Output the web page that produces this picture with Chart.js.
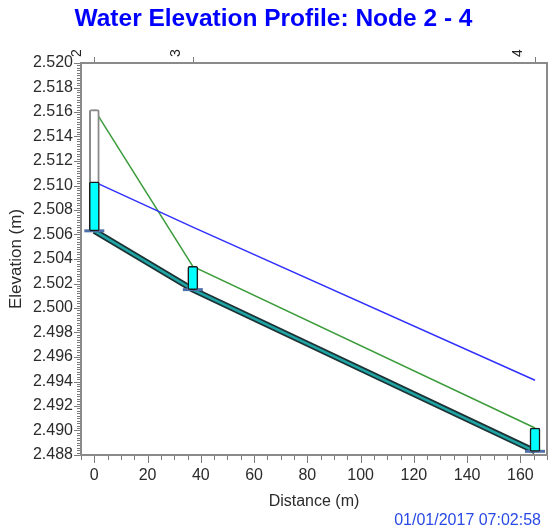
<!DOCTYPE html>
<html>
<head>
<meta charset="utf-8">
<title>Water Elevation Profile: Node 2 - 4</title>
<script src="https://cdn.jsdelivr.net/npm/chart.js@4/dist/chart.umd.min.js"></script>
<style>
  html, body { margin: 0; padding: 0; background: #fff; }
  #wrap { width: 548px; height: 532px; }
</style>
</head>
<body>
<div id="wrap"><canvas id="profileChart"></canvas></div>
<script>
// Node data
const nodeNames = ['2', '3', '4'];
const nodeDistance = [0, 37, 165.5];
const nodeInvert = [2.5063, 2.5015, 2.4883];
const nodeWater = [2.5103, 2.5034, 2.4902];
const nodeMax = [2.5162, 2.5034, 2.4902];

// Current water surface (blue line)
const hglDistance = [0, 37, 165.5];
const hglLevel = [2.5103, 2.5066, 2.4941];

// Axis ranges
const xRange = [-5, 170];
const yRange = [2.488, 2.520];

const FONT = "'Liberation Sans', Arial, sans-serif";

function pts(xs, ys) {
  return xs.map((x, i) => ({ x: x, y: ys[i] }));
}
function boxes(lo, hi) {
  return nodeDistance.map((x, i) => ({ x: x, y: [lo[i], hi[i]] }));
}

// frame, ticks and footer text
const decorPlugin = {
  id: 'decor',
  beforeDatasetsDraw(chart) {
    const ctx = chart.ctx, a = chart.chartArea;
    ctx.save();
    ctx.strokeStyle = '#8a8a8a';
    ctx.lineWidth = 2;
    ctx.strokeRect(a.left, a.top, a.right - a.left, a.bottom - a.top);
    ctx.restore();
  },
  afterDraw(chart) {
    const ctx = chart.ctx, a = chart.chartArea;
    const x = chart.scales.x, y = chart.scales.y;
    ctx.save();
    ctx.strokeStyle = '#7a7a7a';
    ctx.lineWidth = 1;
    ctx.beginPath();
    x.ticks.forEach(t => {
      const px = Math.round(x.getPixelForValue(t.value)) + 0.5;
      const len = t.value % 20 === 0 ? 7 : 4;
      ctx.moveTo(px, a.bottom + 1);
      ctx.lineTo(px, a.bottom + 1 + len);
    });
    y.ticks.forEach(t => {
      const py = Math.round(y.getPixelForValue(t.value)) + 0.5;
      const major = Math.round(t.value * 10000) % 20 === 0;
      const len = major ? 6 : 3;
      ctx.moveTo(a.left - 1, py);
      ctx.lineTo(a.left - 1 - len, py);
    });
    nodeDistance.forEach(d => {
      const px = Math.round(x.getPixelForValue(d)) + 0.5;
      ctx.moveTo(px, a.top - 1);
      ctx.lineTo(px, a.top - 6);
    });
    ctx.stroke();

    ctx.fillStyle = '#2a4ae6';
    ctx.font = '16px ' + FONT;
    ctx.textAlign = 'right';
    ctx.textBaseline = 'middle';
    ctx.fillText('01/01/2017 07:02:58', 541, 521);
    ctx.restore();
  }
};

const ctx = document.getElementById('profileChart');
new Chart(ctx, {
  type: 'line',
  data: {
    datasets: [
      {
        type: 'bar', label: 'Water depth', order: 1,
        data: boxes(nodeInvert, nodeWater),
        backgroundColor: '#00ffff', borderColor: '#1b1b1b', borderWidth: 1.5,
        borderSkipped: false, borderRadius: 2, barThickness: 10, grouped: false
      },
      {
        type: 'bar', label: 'Max depth', order: 2,
        data: boxes(nodeInvert, nodeMax),
        backgroundColor: '#ffffff', borderColor: '#8a8a8a', borderWidth: 2,
        borderSkipped: false, borderRadius: 2, barThickness: 10, grouped: false
      },
      {
        label: 'Invert', order: 3,
        data: pts(nodeDistance, nodeInvert),
        showLine: false, pointStyle: 'line', pointRadius: 10,
        pointBorderWidth: 3, borderColor: '#4f6fa8', backgroundColor: '#4f6fa8'
      },
      {
        label: 'HGL', order: 4,
        data: pts(hglDistance, hglLevel),
        borderColor: '#3030ff', borderWidth: 1.5, pointRadius: 0, tension: 0
      },
      {
        label: 'Max HGL', order: 5,
        data: pts(nodeDistance, nodeMax),
        borderColor: '#3c9c3c', borderWidth: 1.5, pointRadius: 0, tension: 0
      },
      {
        label: 'Pipe inner', order: 6,
        data: pts(nodeDistance, nodeInvert),
        borderColor: '#1fa5a5', borderWidth: 2.5, pointRadius: 0, tension: 0
      },
      {
        label: 'Pipe', order: 7,
        data: pts(nodeDistance, nodeInvert),
        borderColor: '#1c3234', borderWidth: 6, pointRadius: 0, tension: 0
      }
    ]
  },
  options: {
    responsive: true,
    maintainAspectRatio: false,
    animation: false,
    layout: { autoPadding: false, padding: { left: 0, right: 1, top: 0, bottom: 21 } },
    plugins: {
      legend: { display: false },
      tooltip: { enabled: false },
      title: {
        display: true,
        text: 'Water Elevation Profile: Node 2 - 4',
        color: '#0000ff',
        font: { family: FONT, size: 24.5, weight: 'bold' },
        padding: { top: 5, bottom: 0 }
      }
    },
    scales: {
      x: {
        type: 'linear', position: 'bottom',
        min: xRange[0], max: xRange[1], offset: false,
        grid: { display: false, drawTicks: false, offset: false },
        border: { display: false },
        ticks: {
          stepSize: 5, autoSkip: false, maxRotation: 0, padding: 11,
          color: '#2b2b2b', font: { family: FONT, size: 16 },
          callback: v => (v % 20 === 0 ? v : '')
        },
        title: {
          display: true, text: 'Distance (m)', color: '#2b2b2b',
          font: { family: FONT, size: 16 }, padding: { top: 8, bottom: 0 }
        },
        afterFit: s => { s.height = 56; s.paddingLeft = 0; s.paddingRight = 0; }
      },
      x2: {
        type: 'linear', position: 'top',
        min: xRange[0], max: xRange[1], offset: false,
        grid: { display: false, drawTicks: false },
        border: { display: false },
        afterBuildTicks: s => { s.ticks = nodeDistance.map(v => ({ value: v })); },
        ticks: {
          autoSkip: false, minRotation: 90, maxRotation: 90, padding: 6,
          color: '#222', font: { family: FONT, size: 14 },
          callback: (v, i) => nodeNames[i]
        },
        afterFit: s => { s.height = 63 - 34.4; s.paddingLeft = 0; s.paddingRight = 0; }
      },
      y: {
        type: 'linear', position: 'left',
        min: yRange[0], max: yRange[1],
        grid: { display: false, drawTicks: false },
        border: { display: false },
        ticks: {
          stepSize: 0.0002, autoSkip: false, padding: 8,
          color: '#2b2b2b', font: { family: FONT, size: 16 },
          callback: v => (Math.round(v * 10000) % 20 === 0 ? v.toFixed(3) : '')
        },
        title: {
          display: true, text: 'Elevation (m)', color: '#2b2b2b',
          font: { family: FONT, size: 17 }, padding: { top: 6, bottom: 0 }
        },
        afterFit: s => { s.width = 81; s.paddingTop = 0; s.paddingBottom = 0; }
      }
    }
  },
  plugins: [decorPlugin]
});
</script>
</body>
</html>
